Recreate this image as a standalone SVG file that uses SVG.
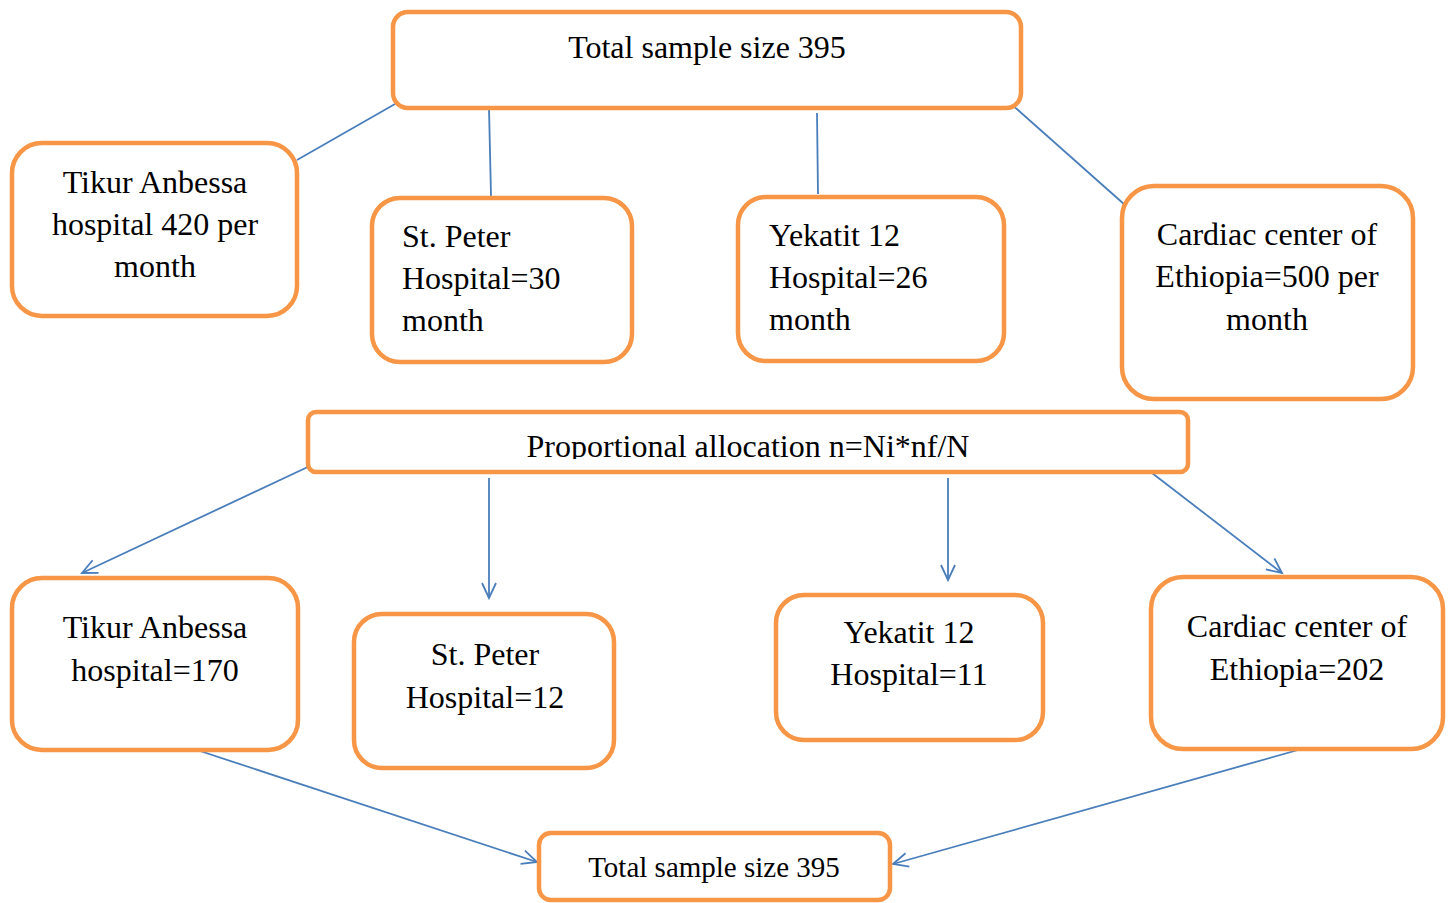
<svg xmlns="http://www.w3.org/2000/svg" width="1449" height="903" viewBox="0 0 1449 903">
<style>
.box{fill:#fff;stroke:#F79646;stroke-width:4.5}
.t{font-family:"Liberation Serif","Times New Roman",serif;font-size:32px;fill:#000}
.c{text-anchor:middle}
.ln{stroke:#4A7EBB;stroke-width:1.8;fill:none}
</style>
<defs>
<marker id="arr" markerUnits="userSpaceOnUse" markerWidth="30" markerHeight="30" refX="16" refY="8" orient="auto">
<path d="M1,1 L16,8 L1,15" fill="none" stroke="#4A7EBB" stroke-width="1.8"/>
</marker>
<clipPath id="clipP"><rect x="300" y="400" width="900" height="59"/></clipPath>
</defs>
<rect width="1449" height="903" fill="#fff"/>
<g id="connectors">
<line class="ln" x1="395" y1="104" x2="297" y2="160"/>
<line class="ln" x1="489" y1="108" x2="491" y2="196"/>
<line class="ln" x1="817" y1="113" x2="818" y2="194"/>
<line class="ln" x1="1010" y1="103" x2="1125" y2="205"/>
<line class="ln" x1="312" y1="465" x2="82" y2="573" marker-end="url(#arr)"/>
<line class="ln" x1="489" y1="478" x2="489" y2="598" marker-end="url(#arr)"/>
<line class="ln" x1="948" y1="478" x2="948" y2="580" marker-end="url(#arr)"/>
<line class="ln" x1="1152" y1="473" x2="1282" y2="573" marker-end="url(#arr)"/>
<line class="ln" x1="194" y1="749" x2="537" y2="862" marker-end="url(#arr)"/>
<line class="ln" x1="1298" y1="750" x2="893" y2="864" marker-end="url(#arr)"/>
</g>
<g id="total-top">
<rect class="box" x="393" y="12" width="628" height="96" rx="15"/>
<text class="t c" x="707" y="58">Total sample size 395</text>
</g>
<g id="tikur-top">
<rect class="box" x="12" y="143" width="285" height="173" rx="30"/>
<text class="t c" x="155" y="193">Tikur Anbessa</text>
<text class="t c" x="155" y="235">hospital 420 per</text>
<text class="t c" x="155" y="277">month</text>
</g>
<g id="peter-top">
<rect class="box" x="372" y="198" width="260" height="164" rx="28"/>
<text class="t" x="402" y="247">St. Peter</text>
<text class="t" x="402" y="289">Hospital=30</text>
<text class="t" x="402" y="331">month</text>
</g>
<g id="yekatit-top">
<rect class="box" x="738" y="197" width="266" height="164" rx="28"/>
<text class="t" x="769" y="246">Yekatit 12</text>
<text class="t" x="769" y="288">Hospital=26</text>
<text class="t" x="769" y="330">month</text>
</g>
<g id="cardiac-top">
<rect class="box" x="1122" y="186" width="291" height="213" rx="32"/>
<text class="t c" x="1267" y="245">Cardiac center of</text>
<text class="t c" x="1267" y="287">Ethiopia=500 per</text>
<text class="t c" x="1267" y="330">month</text>
</g>
<g id="proportional">
<rect class="box" x="308" y="412" width="880" height="60" rx="8"/>
<text class="t c" x="748" y="457" clip-path="url(#clipP)">Proportional allocation n=Ni*nf/N</text>
</g>
<g id="tikur-bottom">
<rect class="box" x="12" y="578" width="286" height="172" rx="30"/>
<text class="t c" x="155" y="638">Tikur Anbessa</text>
<text class="t c" x="155" y="681">hospital=170</text>
</g>
<g id="peter-bottom">
<rect class="box" x="354" y="614" width="260" height="154" rx="28"/>
<text class="t c" x="485" y="665">St. Peter</text>
<text class="t c" x="485" y="708">Hospital=12</text>
</g>
<g id="yekatit-bottom">
<rect class="box" x="776" y="595" width="267" height="145" rx="28"/>
<text class="t c" x="909" y="643">Yekatit 12</text>
<text class="t c" x="909" y="685">Hospital=11</text>
</g>
<g id="cardiac-bottom">
<rect class="box" x="1151" y="577" width="292" height="172" rx="32"/>
<text class="t c" x="1297" y="637">Cardiac center of</text>
<text class="t c" x="1297" y="680">Ethiopia=202</text>
</g>
<g id="total-bottom">
<rect class="box" x="539" y="833" width="351" height="67" rx="12"/>
<text class="t c" x="714" y="877" style="font-size:29px">Total sample size 395</text>
</g>
</svg>
